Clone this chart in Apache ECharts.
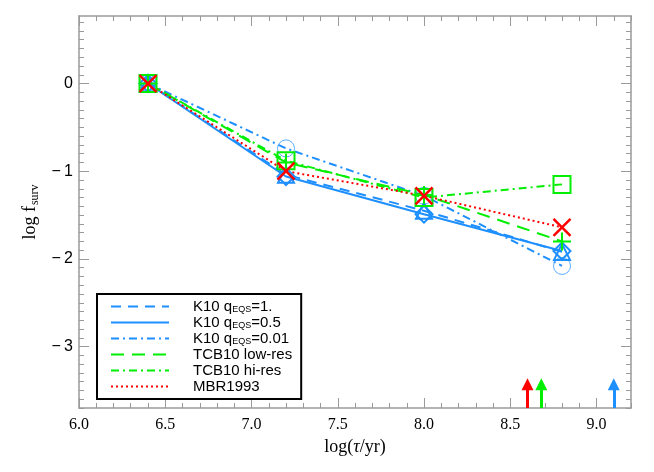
<!DOCTYPE html>
<html><head><meta charset="utf-8">
<script src="https://cdn.jsdelivr.net/npm/echarts@6/dist/echarts.min.js"></script>
<style>html,body{margin:0;padding:0;background:#fff}#c{width:654px;height:472px}</style>
</head><body><div id="c"></div>
<script>
// ---- data ----
const logTau = [6.4, 7.2, 8.0, 8.8];
const k10q1 = [0, -1.04, -1.45, -1.92];
const k10q05 = [0, -1.06, -1.49, -1.91];
const k10q001 = [0, -0.74, -1.28, -2.08];
const tcbLow = [0, -0.90, -1.27, -1.80];
const tcbHi = [0, -0.88, -1.30, -1.15];
const mbr = [0, -1.00, -1.28, -1.64];
const arrowX = [8.6, 8.68, 9.1];
const arrowBase = -3.7;
const arrowTip = -3.43;
const xTickLabels = [6.0, 6.5, 7.0, 7.5, 8.0, 8.5, 9.0];
const yTickLabels = [0, -1, -2, -3];
const seriesNames = ['K10 qEQS=1.', 'K10 qEQS=0.5', 'K10 qEQS=0.01', 'TCB10 low-res', 'TCB10 hi-res', 'MBR1993'];

// ---- styles ----
const BLUE = '#1e8fff', LBLUE = '#5aaeff', GREEN = '#00ee00', RED = '#ff0000';
const AX = '#9a9a9a';
const arrowColors = [RED, GREEN, BLUE];

const xMinor = [], yMinor = [];
for (let i = 60; i <= 92; i++) if (i % 5) xMinor.push(i / 10);
for (let i = -37; i <= 7; i++) if (i % 10) yMinor.push(i / 10);

const XMIN = 6.0, XMAX = 9.2, YMIN = -3.7, YMAX = 0.77;

function xAx(pos, ticks, len, line, labels) {
  return {
    type: 'value', position: pos, min: XMIN, max: XMAX,
    axisLine: { show: line, onZero: false, lineStyle: { color: AX, width: 1.5 } },
    axisTick: { show: true, inside: true, length: len, customValues: ticks, lineStyle: { color: AX, width: 1 } },
    axisLabel: labels ? {
      show: true, customValues: ticks, margin: 9, color: '#000',
      fontFamily: 'Liberation Serif', fontSize: 16,
      formatter: v => v.toFixed(1)
    } : { show: false, customValues: ticks },
    splitLine: { show: false }
  };
}
function yAx(pos, ticks, len, line, labels) {
  return {
    type: 'value', position: pos, min: YMIN, max: YMAX,
    axisLine: { show: line, onZero: false, lineStyle: { color: AX, width: 1.5 } },
    axisTick: { show: true, inside: true, length: len, customValues: ticks, lineStyle: { color: AX, width: 1 } },
    axisLabel: labels ? {
      show: true, customValues: ticks, margin: 6, color: '#000',
      fontFamily: 'Liberation Sans', fontSize: 16,
      formatter: v => v === 0 ? '0' : '\u2212\u2009' + Math.abs(v)
    } : { show: false, customValues: ticks },
    splitLine: { show: false }
  };
}

const xAxes = [
  xAx('bottom', xTickLabels, 10, true, true),
  xAx('bottom', xMinor, 5, false, false),
  xAx('top', xTickLabels, 10, true, false),
  xAx('top', xMinor, 5, false, false)
];
Object.assign(xAxes[0], {
  name: '{a|log(}{t|\u03c4}{a|/yr)}', nameLocation: 'middle', nameGap: 14,
  nameTextStyle: { rich: {
    a: { fontFamily: 'Liberation Serif', fontSize: 18, color: '#000' },
    t: { fontFamily: 'Liberation Serif', fontStyle: 'italic', fontSize: 18, color: '#000' }
  } }
});
const yAxes = [
  yAx('left', yTickLabels, 10, true, true),
  yAx('left', yMinor, 5, false, false),
  yAx('right', yTickLabels, 10, true, false),
  yAx('right', yMinor, 5, false, false)
];
Object.assign(yAxes[0], {
  name: '{a|log f}{s|surv}', nameLocation: 'middle', nameGap: 31,
  nameTextStyle: { rich: {
    a: { fontFamily: 'Liberation Serif', fontSize: 18, color: '#000' },
    s: { fontFamily: 'Liberation Serif', fontSize: 12, color: '#000', padding: [8, 0, 0, 1] }
  } }
});

const pts = arr => logTau.map((x, i) => [x, arr[i]]);
const values = [k10q1, k10q05, k10q001, tcbLow, tcbHi, mbr];
const lineStyles = [
  { color: BLUE, width: 2, type: [10, 7] },
  { color: BLUE, width: 2, type: 'solid' },
  { color: BLUE, width: 2, type: [8, 4, 2, 4] },
  { color: GREEN, width: 2, type: [13, 8] },
  { color: GREEN, width: 2, type: [8, 4, 2, 4] },
  { color: RED, width: 2, type: [2, 3] }
];
const markers = [
  { symbol: 'triangle', size: 16, color: BLUE, bw: 2 },
  { symbol: 'diamond', size: 17, color: BLUE, bw: 2 },
  { symbol: 'circle', size: 17, color: LBLUE, bw: 1 },
  { symbol: 'path://M5,0 L5,10 M0,5 L10,5', size: 18, color: GREEN, bw: 2 },
  { symbol: 'rect', size: 17, color: GREEN, bw: 2 },
  { symbol: 'path://M0,0 L10,10 M10,0 L0,10', size: 17, color: RED, bw: 2.5 }
];

const series = [];
values.forEach((arr, k) => {
  series.push({
    name: seriesNames[k], type: 'line', data: pts(arr), symbol: 'none',
    lineStyle: lineStyles[k], itemStyle: { color: lineStyles[k].color, opacity: 0 },
    z: 2 + k * 0.01, silent: true
  });
});
[2, 0, 1, 3, 4, 5].forEach(k => {
  const m = markers[k];
  series.push({
    name: seriesNames[k] + ' pts', type: 'scatter', data: pts(values[k]),
    symbol: m.symbol, symbolSize: m.size,
    itemStyle: { color: 'rgba(0,0,0,0)', borderColor: m.color, borderWidth: m.bw, opacity: 1 },
    z: 3, silent: true
  });
});
arrowX.forEach((x, i) => {
  series.push({
    name: 'arrow' + i, type: 'line', data: [], silent: true,
    markLine: {
      silent: true, animation: false, symbol: ['none', 'triangle'], symbolSize: 12,
      label: { show: false },
      lineStyle: { color: arrowColors[i], width: 3, type: 'solid', opacity: 1 },
      itemStyle: { color: arrowColors[i] },
      data: [[ { coord: [x, arrowBase] }, { coord: [x, arrowTip] } ]]
    }
  });
});

const chart = echarts.init(document.getElementById('c'));
chart.setOption({
  animation: false,
  backgroundColor: '#fff',
  grid: { left: 79, right: 23, top: 16, bottom: 64, containLabel: false },
  xAxis: xAxes,
  yAxis: yAxes,
  legend: {
    data: seriesNames, orient: 'vertical', left: 97, top: 294,
    padding: [5, 9, 5, 13], borderColor: '#000', borderWidth: 2, backgroundColor: '#fff',
    itemWidth: 58, itemHeight: 14, itemGap: 1, selectedMode: false,
    itemStyle: { opacity: 0 },
    formatter: name => {
      const m = name.match(/^K10 qEQS(=.*)$/);
      if (m) return '{g|}{n|K10 q}{s|EQS}{n|' + m[1] + '}';
      return '{g|}{n|' + name + '}';
    },
    textStyle: { rich: {
      g: { width: 19 },
      n: { fontFamily: 'Liberation Sans', fontSize: 15, color: '#000', lineHeight: 14 },
      s: { fontFamily: 'Liberation Sans', fontSize: 9, color: '#000', padding: [6, 0, 0, 0] }
    } }
  },
  series: series
});
</script></body></html>
